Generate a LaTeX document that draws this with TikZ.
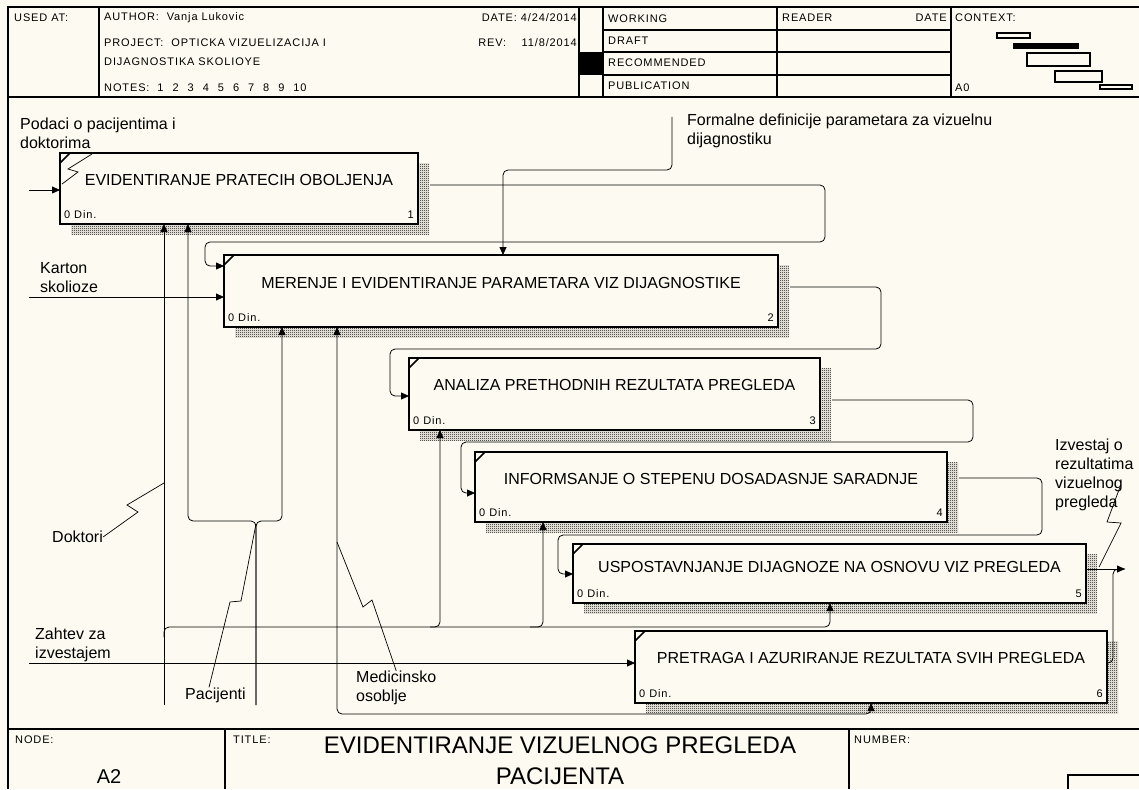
\documentclass[tikz,border=0pt]{standalone}
\usepackage{fontspec}
\setmainfont{Liberation Sans}
\newfontfamily\smallfont[LetterSpace=8]{Liberation Sans}
\usetikzlibrary{arrows.meta, positioning, patterns}
\definecolor{paper}{HTML}{FDFBF1}
\pgfdeclarepatternformonly{dither}{\pgfpointorigin}{\pgfpoint{2pt}{2pt}}{\pgfpoint{2pt}{2pt}}{%
  \pgfpathrectangle{\pgfpointorigin}{\pgfpoint{1pt}{1pt}}%
  \pgfpathrectangle{\pgfpoint{1pt}{1pt}}{\pgfpoint{1pt}{1pt}}%
  \pgfusepath{fill}}

\begin{document}
\begin{tikzpicture}[
  x=1pt, y=-1pt,
  actbox/.style={draw, line width=2.6pt, fill=paper, inner sep=0pt, outer sep=0pt, anchor=north west},
  hatch/.style={pattern=dither, pattern color=black},
  acttext/.style={font=\fontsize{16}{19}\selectfont, inner sep=0pt},
  lbl/.style={font=\fontsize{16}{19}\selectfont, align=left, inner sep=0pt, anchor=west},
  hdr/.style={font=\smallfont\fontsize{11}{13}\selectfont, inner sep=0pt},
  flow/.style={line width=0.8pt, rounded corners=5pt, -{Triangle[length=8pt,width=7pt]}},
  link/.style={line width=0.8pt, rounded corners=5pt},
  squig/.style={line width=0.7pt},
  rule/.style={line width=2pt},
  thinrule/.style={line width=1.2pt}
]
\useasboundingbox (0,0) rectangle (1139,789);
\fill[paper] (0,0) rectangle (1139,789);

% frame and header
\draw[rule] (8,789) -- (8,7) -- (1139,7);
\draw[rule] (8,97) -- (1139,97);
\draw[rule] (8,729) -- (1139,729);
\draw[thinrule] (99,7) -- (99,97);
\draw[thinrule] (579,7) -- (579,97);
\draw[thinrule] (603,7) -- (603,97);
\draw[thinrule] (777,7) -- (777,97);
\draw[thinrule] (951,7) -- (951,97);
\foreach \ry in {30,52,75} \draw[thinrule] (603,\ry) -- (951,\ry);
\fill (579,52) rectangle (603,75);

\node[hdr, anchor=west] (hUsed) at (14,18) {USED AT:};
\node[hdr, anchor=west] (hAuth) at (104,18) {AUTHOR:\ \ Vanja Lukovic};
\node[hdr, anchor=west] (hProj) at (104,43) {PROJECT:\ \ OPTICKA VIZUELIZACIJA I};
\node[hdr, anchor=west] (hProj2) at (104,62) {DIJAGNOSTIKA SKOLIOYE};
\node[hdr, anchor=west] (hNotes) at (104,88) {NOTES:\ \ 1\hspace{9pt}2\hspace{9pt}3\hspace{9pt}4\hspace{9pt}5\hspace{9pt}6\hspace{9pt}7\hspace{9pt}8\hspace{9pt}9\hspace{9pt}10};
\node[hdr, anchor=east] (hDate) at (577,18) {DATE: 4/24/2014};
\node[hdr, anchor=east] (hRev) at (577,43) {REV:\hspace{1.4em}11/8/2014};
\node[hdr, anchor=west] (hWork) at (608,19) {WORKING};
\node[hdr, anchor=west] (hDraft) at (608,41) {DRAFT};
\node[hdr, anchor=west] (hRec) at (608,63) {RECOMMENDED};
\node[hdr, anchor=west] (hPub) at (608,86) {PUBLICATION};
\node[hdr, anchor=west] (hRead) at (782,18) {READER};
\node[hdr, anchor=east] (hRDate) at (947,18) {DATE};
\node[hdr, anchor=west] (hCtx) at (955,18) {CONTEXT:};
\node[hdr, anchor=west] (hA0) at (955,88) {A0};

% context boxes
\draw[thinrule] (997,33) rectangle (1030,38);
\fill (1013,43) rectangle (1079,49);
\draw[thinrule] (1027,53) rectangle (1090,66);
\draw[thinrule] (1055,71) rectangle (1102,82);
\draw[thinrule] (1100,85) rectangle (1132,89);

% activity boxes
\foreach \n/\xa/\ya/\xb/\yb/\ty/\txt in {
  1/60/153/418/224/180/EVIDENTIRANJE PRATECIH OBOLJENJA,
  2/224/255/778/327/283/MERENJE I EVIDENTIRANJE PARAMETARA VIZ DIJAGNOSTIKE,
  3/409/358/820/430/385/ANALIZA PRETHODNIH REZULTATA PREGLEDA,
  4/475/452/947/522/479/INFORMSANJE O STEPENU DOSADASNJE SARADNJE,
  5/573/544/1086/603/567/USPOSTAVNJANJE DIJAGNOZE NA OSNOVU VIZ PREGLEDA,
  6/635/631/1107/703/658/PRETRAGA I AZURIRANJE REZULTATA SVIH PREGLEDA}
{
  \fill[hatch] (\xa+11,\ya+10) rectangle (\xb+11,\yb+10);
  \node[actbox, minimum width={(\xb-\xa)*1pt}, minimum height={(\yb-\ya)*1pt}] (b\n) at (\xa,\ya) {};
  \node[acttext] (t\n) at ({(\xa+\xb)/2},\ty) {\txt};
  \node[hdr, anchor=west] (d\n) at (\xa+4,\yb-9) {0 Din.};
  \node[hdr, anchor=east] (n\n) at (\xb-4,\yb-9) {\n};
  \draw[line width=1.6pt] (\xa,\ya+10) -- (\xa+10,\ya);
}

% free ends
\coordinate (inPod) at (29,190);
\coordinate (inKar) at (29,297);
\coordinate (inZah) at (29,663);
\coordinate (ctlFor) at (672,117);
\coordinate (mDok) at (164,705);
\coordinate (mPac) at (256,705);
\coordinate (jDok) at (164,627);
\coordinate (jPac) at (256,521);
\coordinate (outIzv) at (1125,569);

% inputs and control
\draw[flow] (inPod) -- (inPod -| b1.west);
\draw[flow] (inKar) -- (inKar -| b2.west);
\draw[flow] (inZah) -- (inZah -| b6.west);
\draw[flow] (ctlFor) -- (672,170) -- (503,170) -- (503,0 |- b2.north);

% box to box
\draw[flow, shorten <=12pt] (b1.east |- 0,185) -- (825,185) -- (825,242) -- (205,242) -- (205,266) -- (b2.west |- 0,266);
\draw[flow, shorten <=12pt] (b2.east |- 0,287) -- (881,287) -- (881,349) -- (390,349) -- (390,396) -- (b3.west |- 0,396);
\draw[flow, shorten <=12pt] (b3.east |- 0,400) -- (973,400) -- (973,442) -- (461,442) -- (461,493) -- (b4.west |- 0,493);
\draw[flow, shorten <=12pt] (b4.east |- 0,478) -- (1042,478) -- (1042,535) -- (558,535) -- (558,574) -- (b5.west |- 0,574);

% output
\draw[flow] (b5.east |- outIzv) -- (outIzv);
\draw[link] (b6.east |- 0,663) -- (1113,663) -- (1113,569) -- (outIzv);

% mechanisms
\draw[flow] (mDok) -- (mDok |- b1.south);
\draw[flow] (jDok |- 0,637) -- (jDok) -- (440,627) -- (440,0 |- b3.south);
\draw[flow] (430,627) -- (543,627) -- (543,0 |- b4.south);
\draw[flow] (530,627) -- (830,627) -- (830,0 |- b5.south);
\draw[flow] (mPac) -- (jPac) -- (188,521) -- (188,0 |- b1.south);
\draw[flow] (mPac) -- (jPac) -- (282,521) -- (282,0 |- b2.south);
\draw[link, {Triangle[length=8pt,width=7pt]}-{Triangle[length=8pt,width=7pt]}] (337,0 |- b2.south) -- (337,714) -- (871,714) -- (871,0 |- b6.south);

% arrow labels
\node[lbl] (lPod) at (20,133) {Podaci o pacijentima i\\doktorima};
\node[lbl] (lKar) at (40,278) {Karton\\skolioze};
\node[lbl] (lFor) at (687,131) {Formalne definicije parametara za vizuelnu\\dijagnostiku};
\node[lbl] (lDok) at (52,537) {Doktori};
\node[lbl] (lPac) at (185,695) {Pacijenti};
\node[lbl] (lMed) at (356,688) {Medicinsko\\osoblje};
\node[lbl] (lZah) at (35,645) {Zahtev za\\izvestajem};
\node[lbl] (lIzv) at (1055,475) {Izvestaj o\\rezultatima\\vizuelnog\\pregleda};

\draw[squig] (92,154) -- (68,169) -- (78,172) -- (62,184);
\draw[squig] (lDok.east) -- (138,512) -- (127,505) -- (164,483);
\draw[squig] (lPac.north -| 209,0) -- (230,602) -- (241,601) -- (256,524);
\draw[squig] (lMed.north) -- (372,600) -- (363,607) -- (337,542);
\draw[squig] (1120,487) -- (1107,522) -- (1121,523) -- (1099,567);

% bottom band
\draw[rule] (225,729) -- (225,789);
\draw[rule] (849,729) -- (849,789);
\node[hdr, anchor=west] (hNode) at (15,740) {NODE:};
\node[font=\fontsize{20}{24}\selectfont, inner sep=0pt] (hA2) at (109,777) {A2};
\node[hdr, anchor=west] (hTit) at (233,740) {TITLE:};
\node[font=\fontsize{24}{31}\selectfont, align=center, inner sep=0pt] (hTitle) at (560,761) {EVIDENTIRANJE VIZUELNOG PREGLEDA\\PACIJENTA};
\node[hdr, anchor=west] (hNum) at (854,740) {NUMBER:};
\draw[thinrule] (1068,789) -- (1068,775) -- (1139,775);
\end{tikzpicture}
\end{document}
